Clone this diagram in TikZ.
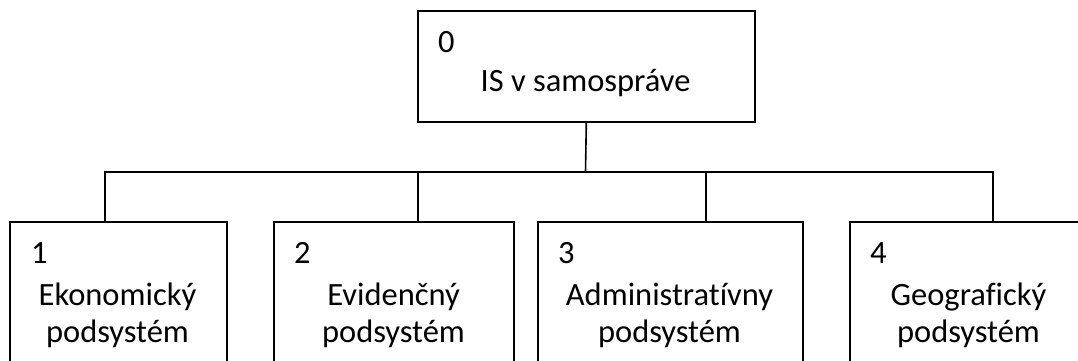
\documentclass[tikz,border=0pt]{standalone}
\usepackage{fontspec}
\setmainfont{Carlito}[RawFeature={-liga;-clig;-dlig}]
\begin{document}
\begin{tikzpicture}[x=1pt,y=1pt,
  box/.style={draw, line width=1.6pt, rectangle, inner sep=0pt, anchor=north west},
  num/.style={anchor=base west, inner sep=0pt, font=\fontsize{32.5}{38}\selectfont},
  txt/.style={anchor=base, inner sep=0pt, font=\fontsize{32.5}{38}\selectfont},
  link/.style={line width=1.6pt}]
\useasboundingbox (0,0) rectangle (1078,360);
\clip (0,0) rectangle (1078,360);
\fill[white] (0,0) rectangle (1078,360);

% root box
\node[box, minimum width=337pt, minimum height=111pt] (top) at (417,350) {};
\node[num] (n0) at (438,308) {0};
\node[txt] (t0) at (585.5,269) {IS v samospráve};

% subsystem boxes
\node[box, minimum width=217pt, minimum height=170pt] (b1) at (9,139) {};
\node[box, minimum width=240pt, minimum height=170pt] (b2) at (273,139) {};
\node[box, minimum width=265pt, minimum height=170pt] (b3) at (537,139) {};
\node[box, minimum width=239pt, minimum height=170pt] (b4) at (849,139) {};

\node[num] (n1) at (31,97) {1};
\node[txt] (a1) at (117.5,55) {Ekonomický};
\node[txt] (p1) at (117.5,18) {podsystém};

\node[num] (n2) at (294,97) {2};
\node[txt] (a2) at (393.5,55) {Evidenčný};
\node[txt] (p2) at (393.5,18) {podsystém};

\node[num] (n3) at (558,97) {3};
\node[txt] (a3) at (669.5,55) {Administratívny};
\node[txt] (p3) at (669.5,18) {podsystém};

\node[num] (n4) at (870,97) {4};
\node[txt] (a4) at (968.5,55) {Geografický};
\node[txt] (p4) at (968.5,18) {podsystém};

% tree connectors
\coordinate (bus) at (585.5,188);
\draw[link] (top.south) -- (bus);
\draw[link] (bus) -| ([xshift=96pt]b1.north west);
\draw[link] (bus) -| ([xshift=145pt]b2.north west);
\draw[link] (bus) -| ([xshift=169pt]b3.north west);
\draw[link] (bus) -| ([xshift=144pt]b4.north west);
\end{tikzpicture}
\end{document}
